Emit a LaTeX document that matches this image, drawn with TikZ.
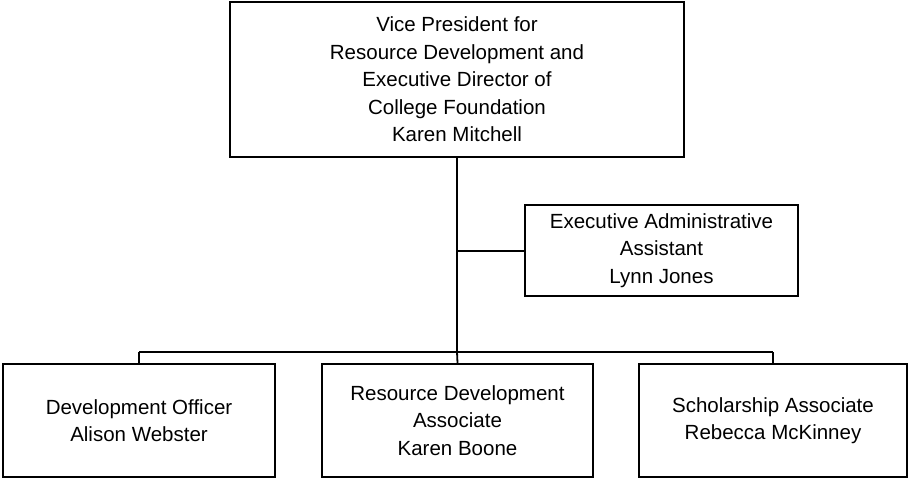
\documentclass[tikz,border=0pt]{standalone}
\usepackage{fontspec}
\setmainfont{Liberation Sans}
\begin{document}
\begin{tikzpicture}[x=1pt,y=-1pt,
  box/.style={draw, line width=1.8pt, align=center, inner sep=0pt, font=\fontsize{20.5}{27.5}\selectfont},
  conn/.style={line width=1.8pt}]
\useasboundingbox (0,0) rectangle (909,479);
\node[box, minimum width=454pt, minimum height=155pt] (vp) at (457,79.5) {Vice President for\\Resource Development and\\Executive Director of\\College Foundation\\Karen Mitchell};
\node[box, minimum width=273pt, minimum height=91pt] (ea) at (661.5,250.5) {Executive Administrative\\Assistant\\Lynn Jones};
\coordinate (eaj) at (457,251);
\node[box, minimum width=272pt, minimum height=113pt] (do) at (139,420.5) {Development Officer\\Alison Webster};
\node[box, minimum width=271pt, minimum height=113pt] (rd) at (457.5,420.5) {Resource Development\\Associate\\Karen Boone};
\node[box, minimum width=268pt, minimum height=113pt] (sa) at (773,420.5) {Scholarship Associate\\Rebecca McKinney};
\coordinate (bar) at (457,352);
\coordinate (barL) at (139,352);
\coordinate (barR) at (773,352);
\draw[conn] (vp.south) -- (bar);
\draw[conn] (eaj) -- (eaj -| ea.west);
\draw[conn] (barL) -- (barR);
\draw[conn] (barL) -- (do.north);
\draw[conn] (bar) -- (rd.north);
\draw[conn] (barR) -- (sa.north);
\end{tikzpicture}
\end{document}
